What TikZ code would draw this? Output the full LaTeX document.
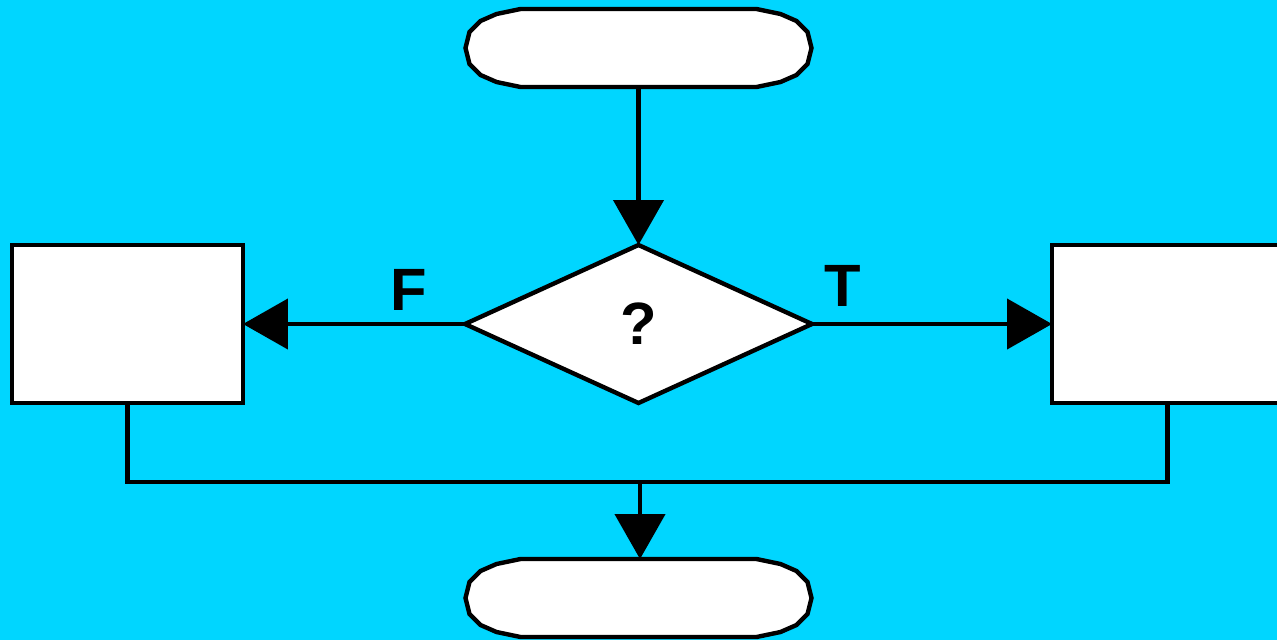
\documentclass[tikz,border=0pt]{standalone}
\usepackage{fontspec}
\setmainfont{Liberation Sans}
\usetikzlibrary{shapes.geometric,arrows.meta}
\definecolor{skyback}{RGB}{0,214,255}

\tikzset{
  outline/.style={draw=black, line width=2.5pt, fill=white},
  flow/.style={line width=2.5pt, -{Triangle[length=0.9cm, width=1.0cm]}},
  link/.style={line width=2.5pt},
  termbox/.style={minimum width=347*0.02cm, minimum height=78*0.02cm, inner sep=0pt, outer sep=0pt},
  procbox/.style={outline, rectangle, minimum width=231*0.02cm, minimum height=158*0.02cm, inner sep=0pt, outer sep=0pt},
  testbox/.style={outline, diamond, minimum width=347*0.02cm, minimum height=158*0.02cm, inner sep=0pt, outer sep=0pt,
    font=\fontsize{34pt}{40pt}\selectfont\bfseries},
  branch/.style={font=\fontsize{34pt}{40pt}\selectfont\bfseries, inner sep=0pt}
}

% terminal with stretched round ends
\newcommand{\terminal}[2]{%
  \node[termbox] (#1) at (#2) {};
  \begin{scope}[shift={(#1.center)}]
    \draw[outline] (-118,-39) -- (118,-39) -- (142,-34) -- (158,-27) -- (169,-16) -- (173,0)
      -- (169,16) -- (158,27) -- (142,34) -- (118,39) -- (-118,39) -- (-142,34) -- (-158,27)
      -- (-169,16) -- (-173,0) -- (-169,-16) -- (-158,-27) -- (-142,-34) -- cycle;
  \end{scope}}

\begin{document}
\begin{tikzpicture}[x={(0.02cm,0cm)},y={(0cm,-0.02cm)}]

\clip (0,0) rectangle (1277,640);
\fill[skyback] (0,0) rectangle (1277,640);

\terminal{start}{638.5,48}
\terminal{stop}{638.5,598}

\node[testbox]  (test)     at (638.5,324) {?};
\node[procbox]  (falsebox) at (127.5,324) {};
\node[procbox]  (truebox)  at (1167.5,324) {};

\node[branch] (flab) at (409,290) {F};
\node[branch] (tlab) at (843,286) {T};

\coordinate (merge) at (640,482);

\draw[flow] (start.south -| test.north) -- (test.north);
\draw[flow] (test.west) -- (falsebox.east);
\draw[flow] (test.east) -- (truebox.west);
\draw[link] (falsebox.south) |- (merge) -| (truebox.south);
\draw[flow] (merge) -- (stop.north -| merge);

\end{tikzpicture}
\end{document}
